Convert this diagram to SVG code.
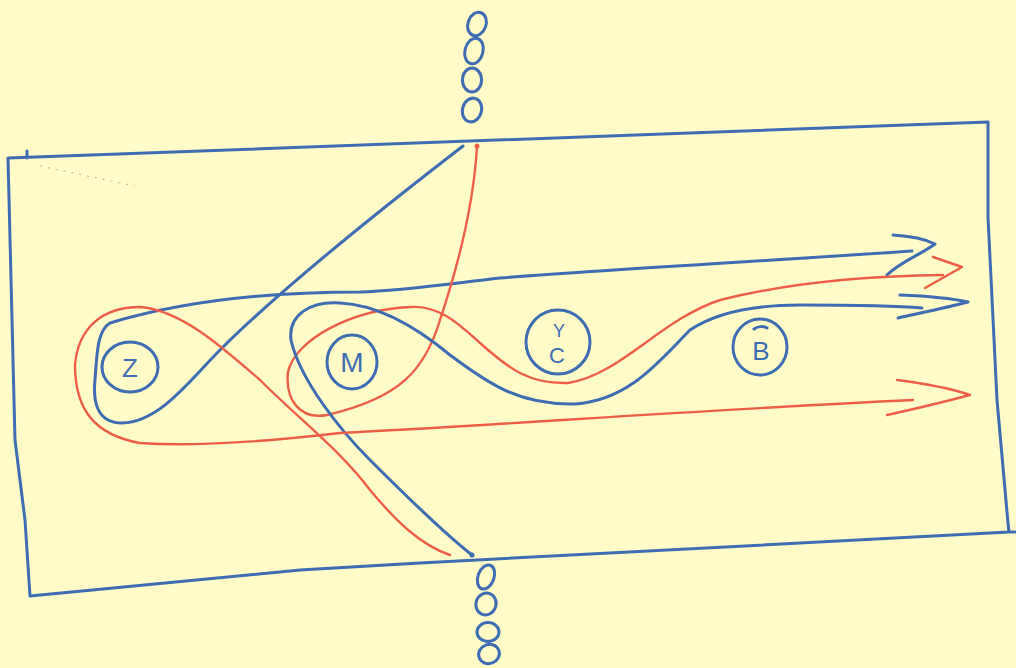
<svg xmlns="http://www.w3.org/2000/svg" width="1016" height="668" viewBox="0 0 1016 668">
<style>
.b{fill:none;stroke:#3f6cb3;stroke-width:3;stroke-linecap:round;stroke-linejoin:round}
.r{fill:none;stroke:#ef5f48;stroke-width:2.4;stroke-linecap:round;stroke-linejoin:round}
.o{fill:none;stroke:#3f6cb3;stroke-width:3}
.lbl{font-family:"Liberation Sans",Arial,sans-serif;fill:#3f6cb3;text-anchor:middle}
</style>
<rect width="1016" height="668" fill="#fffcc9"/>
<g id="frame">
<path class="b" d="M 8 158 L 988 122 L 988 217 L 997 400 L 1008 523 L 1009 532 L 1015 532 M 1009 532 L 420 563 L 300 570 L 30 596 L 25 520 L 15 440 L 8 158 M 27 151 L 27 158"/>
<path d="M 40 166 L 135 186" stroke="#9a9a80" stroke-width="1.2" stroke-dasharray="2 6" fill="none" opacity="0.6"/>
</g>
<g id="top-links">
<ellipse class="o" cx="477" cy="24" rx="9" ry="12" transform="rotate(20 477 24)"/>
<ellipse class="o" cx="474" cy="51" rx="9" ry="13" transform="rotate(15 474 51)"/>
<ellipse class="o" cx="472" cy="80" rx="9.5" ry="12"/>
<ellipse class="o" cx="472" cy="110" rx="9.5" ry="12" transform="rotate(15 472 110)"/>
</g>
<g id="bottom-links">
<ellipse class="o" cx="486" cy="577" rx="8" ry="12.5" transform="rotate(20 486 577)"/>
<ellipse class="o" cx="486" cy="604" rx="10" ry="11" transform="rotate(20 486 604)"/>
<ellipse class="o" cx="488" cy="632" rx="11" ry="9.5"/>
<ellipse class="o" cx="489" cy="654" rx="10.5" ry="9.5" transform="rotate(-20 489 654)"/>
</g>
<g id="connectors">
<path class="b" d="M 463 146 C 380 210 280 290 220 350 C 190 380 160 422 122 423 C 96 423 93 400 95 380 C 97 350 98 330 110 323 C 180 302 260 292 360 292 C 400 291 440 285 500 278 C 600 270 750 262 912 251"/>
<path class="b" d="M 893 235 C 910 236 925 239 935 244 C 920 255 900 262 887 275"/>
<path class="r" d="M 477 146 C 474 200 460 260 440 320 C 425 370 400 398 327 415 C 300 420 285 400 288 372 C 295 340 350 310 410 307 C 440 305 460 325 480 343 C 510 370 530 384 568 383 C 620 375 660 320 720 300 C 780 285 850 276 943 275"/>
<path class="r" d="M 933 257 L 962 267 L 925 288"/>
<path class="b" d="M 472 555 C 440 530 400 490 370 460 C 340 430 300 380 291 340 C 288 315 310 301 340 303 C 380 305 420 330 450 355 C 490 385 520 405 575 404 C 630 400 660 360 690 330 C 720 310 760 305 800 305 C 850 305 900 306 922 308"/>
<path class="b" d="M 900 295 C 925 296 950 298 968 302 C 945 308 920 313 898 318"/>
<path class="r" d="M 450 555 C 420 545 395 520 370 490 C 340 450 300 420 260 380 C 220 345 180 310 140 307 C 100 307 78 330 75 365 C 75 410 95 435 140 443 C 200 447 280 440 340 433 C 500 425 700 410 913 400"/>
<path class="r" d="M 897 380 C 920 383 950 388 970 395 C 940 403 910 410 887 415"/>
<circle cx="472" cy="555" r="2.5" fill="#3f6cb3"/>
<circle cx="477" cy="146" r="2.5" fill="#ef5f48"/>
</g>
<g id="node-Z">
<ellipse class="o" cx="130" cy="367" rx="28" ry="25"/>
<text class="lbl" x="130" y="377" font-size="26">Z</text>
</g>
<g id="node-M">
<ellipse class="o" cx="352" cy="362" rx="25" ry="27"/>
<text class="lbl" x="352" y="372" font-size="28">M</text>
</g>
<g id="node-YC">
<circle class="o" cx="558" cy="342" r="32"/>
<text class="lbl" x="559" y="337" font-size="18">Y</text>
<text class="lbl" x="557" y="363" font-size="22">C</text>
</g>
<g id="node-B">
<ellipse class="o" cx="760" cy="347" rx="27" ry="28"/>
<text class="lbl" x="761" y="360" font-size="26">B</text>
<path class="b" d="M 754 329 C 758 326 764 326 767 328" stroke-width="2"/>
</g>
</svg>
